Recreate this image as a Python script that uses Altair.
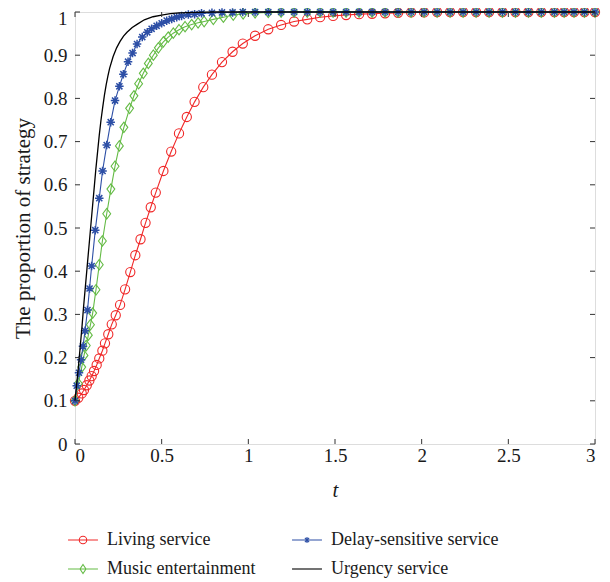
import altair as alt
import pandas as pd

FONT = "Liberation Serif"
TXT = "#1a1a1a"
AXC = "#333333"

RED = "#f02828"
GREEN = "#64bb45"
BLUE = "#2d4fa6"
BLACK = "#000000"

# legend order (column-major, 2 columns)
series_names = ["Living service", "Music entertainment", "Delay-sensitive service", "Urgency service"]
series_colors = [RED, GREEN, BLUE, BLACK]

x_ticks = [0, 0.5, 1, 1.5, 2, 2.5, 3]
y_ticks = [0, 0.1, 0.2, 0.3, 0.4, 0.5, 0.6, 0.7, 0.8, 0.9, 1]

t_living = [0, 0.019, 0.039, 0.052, 0.068, 0.083, 0.096, 0.11, 0.125, 0.14, 0.158, 0.173, 0.192, 0.212, 0.235, 0.26,
            0.289, 0.319, 0.348, 0.378, 0.407, 0.437, 0.466,
            0.51, 0.555, 0.6, 0.645, 0.69, 0.74, 0.79, 0.848, 0.909, 0.968,
            1.039, 1.115, 1.189, 1.264, 1.34, 1.414, 1.489, 1.564, 1.639, 1.714, 1.789, 1.864, 1.939, 2.014,
            2.089, 2.164, 2.239, 2.314, 2.389, 2.466, 2.541, 2.616, 2.69, 2.766,
            2.822, 2.879, 2.939, 3.0]
v_living = [0.100, 0.107, 0.117, 0.125, 0.136, 0.147, 0.157, 0.169, 0.183, 0.198, 0.216, 0.233, 0.254, 0.277, 0.298, 0.322,
            0.358, 0.398, 0.437, 0.474, 0.512, 0.548, 0.582,
            0.632, 0.677, 0.719, 0.757, 0.792, 0.826, 0.855, 0.884, 0.908, 0.927,
            0.945, 0.960, 0.970, 0.978, 0.983, 0.988, 0.991, 0.993, 0.995, 0.996, 0.997, 0.998, 0.999, 0.999,
            1.0, 1.0, 1.0, 1.0, 1.0, 1.0, 1.0, 1.0, 1.0, 1.0,
            1.0, 1.0, 1.0, 1.0]

t_music = [0, 0.019, 0.039, 0.052, 0.065, 0.077, 0.089, 0.102, 0.121, 0.14, 0.158, 0.183, 0.207, 0.231, 0.256, 0.282,
           0.315, 0.34, 0.367, 0.394, 0.423, 0.452, 0.481, 0.51, 0.538, 0.567, 0.6, 0.635, 0.673, 0.71, 0.745,
           0.798, 0.856, 0.913, 0.97, 1.039,
           1.115, 1.189, 1.264, 1.34, 1.414, 1.489, 1.564, 1.639, 1.714, 1.789, 1.864, 1.939, 2.014,
           2.089, 2.164, 2.239, 2.314, 2.389, 2.466, 2.541, 2.616, 2.69, 2.766,
           2.822, 2.879, 2.939, 3.0]
v_music = [0.100, 0.140, 0.178, 0.205, 0.228, 0.252, 0.276, 0.303, 0.357, 0.415, 0.470, 0.533, 0.590, 0.643, 0.690, 0.733,
           0.777, 0.806, 0.834, 0.858, 0.881, 0.900, 0.917, 0.931, 0.942, 0.951, 0.959, 0.966, 0.971, 0.975, 0.978,
           0.983, 0.988, 0.993, 0.996, 0.998,
           0.999, 1.0, 1.0, 1.0, 1.0, 1.0, 1.0, 1.0, 1.0, 1.0, 1.0, 1.0, 1.0,
           1.0, 1.0, 1.0, 1.0, 1.0, 1.0, 1.0, 1.0, 1.0, 1.0,
           1.0, 1.0, 1.0, 1.0]

t_delay = [0, 0.01, 0.023, 0.035, 0.046, 0.058, 0.072, 0.084, 0.096, 0.117, 0.14, 0.159, 0.183, 0.206, 0.231, 0.256,
           0.279, 0.306, 0.332, 0.358, 0.388, 0.417, 0.442, 0.471, 0.5, 0.529, 0.558, 0.587, 0.615, 0.654, 0.69,
           0.73, 0.79, 0.848, 0.909, 0.968, 1.039,
           1.115, 1.189, 1.264, 1.34, 1.414, 1.489, 1.564, 1.639, 1.714, 1.789, 1.864, 1.939, 2.014,
           2.089, 2.164, 2.239, 2.314, 2.389, 2.466, 2.541, 2.616, 2.69, 2.766,
           2.822, 2.879, 2.939, 3.0]
v_delay = [0.100, 0.135, 0.165, 0.195, 0.226, 0.262, 0.310, 0.360, 0.412, 0.495, 0.569, 0.632, 0.692, 0.745, 0.795, 0.828,
           0.856, 0.885, 0.905, 0.926, 0.942, 0.953, 0.961, 0.968, 0.974, 0.980, 0.984, 0.988, 0.991, 0.994, 0.995,
           0.997, 0.998, 0.999, 0.999, 1.0, 1.0,
           1.0, 1.0, 1.0, 1.0, 1.0, 1.0, 1.0, 1.0, 1.0, 1.0, 1.0, 1.0, 1.0,
           1.0, 1.0, 1.0, 1.0, 1.0, 1.0, 1.0, 1.0, 1.0, 1.0,
           1.0, 1.0, 1.0, 1.0]

t_urgency = [0, 0.01, 0.02, 0.03, 0.04, 0.05, 0.06, 0.07, 0.08, 0.09, 0.1, 0.11, 0.12, 0.13, 0.14, 0.15, 0.16, 0.17,
             0.18, 0.19, 0.2, 0.22, 0.24, 0.26, 0.28, 0.3, 0.33, 0.36, 0.4, 0.45, 0.5, 0.55, 0.6, 0.7, 0.8, 1.0,
             1.5, 2.0, 2.5, 3.0]
v_urgency = [0.100, 0.140, 0.180, 0.225, 0.270, 0.320, 0.365, 0.410, 0.455, 0.500, 0.545, 0.590, 0.635, 0.675, 0.715,
             0.750, 0.780, 0.808, 0.832, 0.852, 0.870, 0.897, 0.917, 0.932, 0.944, 0.953, 0.964, 0.972, 0.982, 0.989,
             0.993, 0.996, 0.998, 0.999, 1.0, 1.0, 1.0, 1.0, 1.0, 1.0]

W, H = 520, 432

xs = alt.Scale(domain=[0, 3], nice=False, zero=False)
ys = alt.Scale(domain=[0, 1], nice=False, zero=False)

AX = alt.Axis(values=x_ticks, format="~g", ticks=False, domain=False, grid=False,
              labelFont=FONT, labelFontSize=19, labelColor=TXT, labelPadding=2,
              title="t", titleFont=FONT, titleFontSize=21, titleFontStyle="italic",
              titleFontWeight="normal", titleColor=TXT, titlePadding=14)
AY = alt.Axis(values=y_ticks, format="~g", ticks=False, domain=False, grid=False,
              labelFont=FONT, labelFontSize=19, labelColor=TXT, labelPadding=8,
              labelOffset={"condition": {"test": "datum.value == 1", "value": 6}, "value": 0},
              title="The proportion of strategy", titleFont=FONT, titleFontSize=21,
              titleFontWeight="normal", titleColor=TXT, titlePadding=10)


def xy():
    return dict(x=alt.X("t:Q", scale=xs, axis=AX), y=alt.Y("v:Q", scale=ys, axis=AY))


def frame(t, v):
    return pd.DataFrame({"t": t, "v": v})


d_living = frame(t_living, v_living)
d_music = frame(t_music, v_music)
d_delay = frame(t_delay, v_delay)
d_urgency = frame(t_urgency, v_urgency)

DIAMOND = "M0,-1.2L0.9,0L0,1.2L-0.9,0Z"
STAR = "M0,-1L0,1M-1,0L1,0M-0.72,-0.72L0.72,0.72M-0.72,0.72L0.72,-0.72"

layers = []
layers.append(alt.Chart(d_living).mark_line(color=RED, strokeWidth=1.1).encode(**xy()))
layers.append(alt.Chart(d_living).mark_point(shape="circle", size=85, filled=False, color=RED,
                                             strokeWidth=1.1, opacity=1).encode(**xy()))
layers.append(alt.Chart(d_music).mark_line(color=GREEN, strokeWidth=1.1).encode(**xy()))
layers.append(alt.Chart(d_music).mark_point(shape=DIAMOND, size=76, filled=False, color=GREEN,
                                            strokeWidth=1.1, opacity=1).encode(**xy()))
layers.append(alt.Chart(d_delay).mark_line(color=BLUE, strokeWidth=1.1).encode(**xy()))
layers.append(alt.Chart(d_delay).mark_point(shape=STAR, size=72, filled=False, color=BLUE,
                                            strokeWidth=1.5, opacity=1).encode(**xy()))
layers.append(alt.Chart(d_urgency).mark_line(color=BLACK, strokeWidth=1.3).encode(**xy()))

# inward ticks on all four sides
xt = pd.DataFrame({"t": x_ticks})
yt = pd.DataFrame({"v": y_ticks})
layers.append(alt.Chart(xt).mark_rule(color=AXC, strokeWidth=1).encode(
    x=alt.X("t:Q", scale=xs, axis=AX), y=alt.value(H), y2=alt.value(H - 5)))
layers.append(alt.Chart(xt).mark_rule(color=AXC, strokeWidth=1).encode(
    x=alt.X("t:Q", scale=xs, axis=AX), y=alt.value(0), y2=alt.value(5)))
layers.append(alt.Chart(yt).mark_rule(color=AXC, strokeWidth=1).encode(
    y=alt.Y("v:Q", scale=ys, axis=AY), x=alt.value(0), x2=alt.value(5)))
layers.append(alt.Chart(yt).mark_rule(color=AXC, strokeWidth=1).encode(
    y=alt.Y("v:Q", scale=ys, axis=AY), x=alt.value(W), x2=alt.value(W - 5)))

# legend
legend_paths = [
    "M-4,0L4,0M-1,0A1,1,0,1,1,1,0A1,1,0,1,1,-1,0",
    "M-4,0L4,0M0,-1.2L0.8,0L0,1.2L-0.8,0Z",
    "M-4,0L4,0M0,-0.8L0,0.8M-0.8,0L0.8,0M-0.57,-0.57L0.57,0.57M-0.57,0.57L0.57,-0.57",
    "M-4,0L4,0",
]
LEG = alt.Legend(title=None, orient="none", legendX=-1, legendY=519, columns=2, direction="vertical",
                 symbolSize=56, symbolStrokeWidth=1.1, symbolOpacity=1,
                 labelFont=FONT, labelFontSize=18, labelColor=TXT, labelOffset=15, labelLimit=400,
                 columnPadding=33, rowPadding=11, padding=0)
leg_df = pd.DataFrame({"series": series_names, "t": [0, 0, 0, 0], "v": [0, 0, 0, 0]})
layers.append(
    alt.Chart(leg_df).transform_filter("false").mark_point(filled=False, opacity=1).encode(
        **xy(),
        color=alt.Color("series:N", scale=alt.Scale(domain=series_names, range=series_colors), legend=LEG),
        shape=alt.Shape("series:N", scale=alt.Scale(domain=series_names, range=legend_paths), legend=LEG),
    )
)

chart = alt.layer(*layers).properties(
    width=W, height=H,
    autosize=alt.AutoSizeParams(type="none"),
    padding={"left": 67, "top": 4, "right": 7, "bottom": 142},
).configure_view(stroke="#3a3a3a", strokeWidth=1.4).configure(background="white")

chart.save("out.html", embed_options={"renderer": "svg", "actions": False})
